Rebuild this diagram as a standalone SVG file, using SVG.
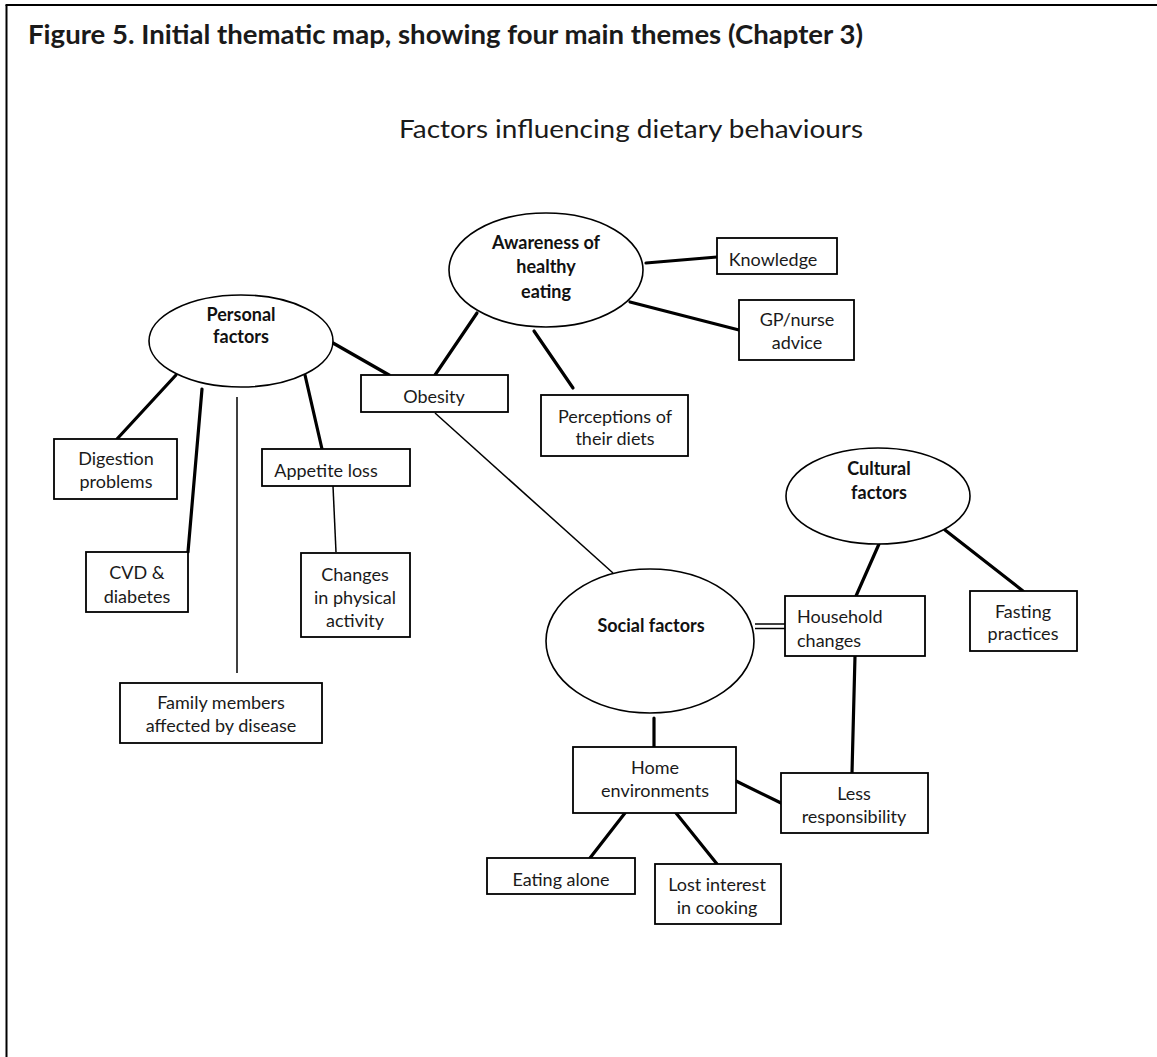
<svg xmlns="http://www.w3.org/2000/svg" width="1157" height="1057" viewBox="0 0 1157 1057">
<style>
.frame{stroke:#000;stroke-width:2;fill:none}
.ell{fill:#fff;stroke:#000;stroke-width:1.6}
.box{fill:#fff;stroke:#000;stroke-width:1.8}
.thick{stroke:#000;stroke-width:3.2;fill:none;stroke-linecap:round}
.thin{stroke:#000;stroke-width:1.5;fill:none}
text{font-family:Lato,"Open Sans","Liberation Sans",sans-serif;fill:#1a1a1a}
.lbl{font-size:18px;text-anchor:middle}
.lbl-l{font-size:18px;text-anchor:start}
.hd{font-size:18px;font-weight:bold;text-anchor:middle;fill:#111}
</style>
<rect x="0" y="0" width="1157" height="1057" fill="#fff"/>
<g id="frame">
<line class="frame" x1="5.5" y1="5" x2="1157" y2="5"/>
<line class="frame" x1="6.5" y1="5" x2="6.5" y2="1057"/>
</g>
<g id="titles">
<text x="28" y="44" font-size="27" font-weight="bold" textLength="835" lengthAdjust="spacingAndGlyphs" fill="#000">Figure 5. Initial thematic map, showing four main themes (Chapter 3)</text>
<text x="399" y="138" font-size="25" textLength="464" lengthAdjust="spacingAndGlyphs" fill="#222">Factors influencing dietary behaviours</text>
</g>
<g id="connectors">
<line class="thick" x1="176" y1="375" x2="117" y2="439"/>
<line class="thick" x1="202" y1="389" x2="188" y2="552"/>
<line class="thick" x1="305" y1="375" x2="322" y2="449"/>
<line class="thick" x1="333" y1="343" x2="389" y2="375"/>
<line class="thick" x1="477" y1="313" x2="435" y2="375"/>
<line class="thick" x1="646" y1="263" x2="717" y2="257"/>
<line class="thick" x1="630" y1="302" x2="739" y2="330"/>
<line class="thick" x1="534" y1="331" x2="573" y2="388"/>
<line class="thick" x1="879" y1="544" x2="856" y2="596"/>
<line class="thick" x1="945" y1="530" x2="1023" y2="591"/>
<line class="thin" x1="755" y1="624" x2="785" y2="624" stroke-width="2"/>
<line class="thin" x1="755" y1="628.5" x2="785" y2="628.5" stroke-width="2"/>
<line class="thick" x1="654" y1="718" x2="654" y2="747"/>
<line class="thick" x1="855" y1="656" x2="852" y2="773"/>
<line class="thick" x1="736" y1="781" x2="781" y2="803"/>
<line class="thick" x1="625" y1="813" x2="590" y2="858"/>
<line class="thick" x1="676" y1="813" x2="717" y2="864"/>
<line class="thin" x1="237" y1="397" x2="237" y2="673"/>
<line class="thin" x1="333" y1="486" x2="336" y2="552"/>
<line class="thin" x1="435" y1="413" x2="613" y2="573"/>
</g>
<g id="personal-factors">
<ellipse class="ell" cx="241" cy="341" rx="92" ry="46"/>
<text class="hd" x="241" y="321">Personal</text>
<text class="hd" x="241" y="343">factors</text>
</g>
<g id="awareness">
<ellipse class="ell" cx="546" cy="270" rx="97" ry="57"/>
<text class="hd" x="546" y="249">Awareness of</text>
<text class="hd" x="546" y="273">healthy</text>
<text class="hd" x="546" y="298">eating</text>
</g>
<g id="cultural-factors">
<ellipse class="ell" cx="878" cy="496" rx="92" ry="48"/>
<text class="hd" x="879" y="475">Cultural</text>
<text class="hd" x="879" y="499">factors</text>
</g>
<g id="social-factors">
<ellipse class="ell" cx="650" cy="641" rx="104" ry="72"/>
<text class="hd" x="651" y="632">Social factors</text>
</g>
<g id="obesity">
<rect class="box" x="361" y="375" width="147" height="37"/>
<text class="lbl" x="434" y="403">Obesity</text>
</g>
<g id="digestion">
<rect class="box" x="54" y="439" width="123" height="60"/>
<text class="lbl" x="116" y="465">Digestion</text>
<text class="lbl" x="116" y="488">problems</text>
</g>
<g id="appetite-loss">
<rect class="box" x="262" y="449" width="148" height="37"/>
<text class="lbl" x="326" y="477">Appetite loss</text>
</g>
<g id="cvd">
<rect class="box" x="86" y="552" width="102" height="60"/>
<text class="lbl" x="137" y="579">CVD &amp;</text>
<text class="lbl" x="137" y="603">diabetes</text>
</g>
<g id="physical-activity">
<rect class="box" x="301" y="553" width="109" height="84"/>
<text class="lbl" x="355" y="581">Changes</text>
<text class="lbl" x="355" y="604">in physical</text>
<text class="lbl" x="355" y="627">activity</text>
</g>
<g id="family">
<rect class="box" x="120" y="683" width="202" height="60"/>
<text class="lbl" x="221" y="709">Family members</text>
<text class="lbl" x="221" y="732">affected by disease</text>
</g>
<g id="knowledge">
<rect class="box" x="717" y="238" width="120" height="36"/>
<text class="lbl" x="773" y="266">Knowledge</text>
</g>
<g id="gp-advice">
<rect class="box" x="739" y="300" width="115" height="60"/>
<text class="lbl" x="797" y="326">GP/nurse</text>
<text class="lbl" x="797" y="349">advice</text>
</g>
<g id="perceptions">
<rect class="box" x="541" y="395" width="147" height="61"/>
<text class="lbl" x="615" y="423">Perceptions of</text>
<text class="lbl" x="615" y="445">their diets</text>
</g>
<g id="household">
<rect class="box" x="785" y="596" width="140" height="60"/>
<text class="lbl-l" x="797" y="623">Household</text>
<text class="lbl-l" x="797" y="647">changes</text>
</g>
<g id="fasting">
<rect class="box" x="970" y="591" width="107" height="60"/>
<text class="lbl" x="1023" y="618">Fasting</text>
<text class="lbl" x="1023" y="640">practices</text>
</g>
<g id="home">
<rect class="box" x="573" y="747" width="163" height="66"/>
<text class="lbl" x="655" y="774">Home</text>
<text class="lbl" x="655" y="797">environments</text>
</g>
<g id="less-responsibility">
<rect class="box" x="781" y="773" width="147" height="60"/>
<text class="lbl" x="854" y="800">Less</text>
<text class="lbl" x="854" y="823">responsibility</text>
</g>
<g id="eating-alone">
<rect class="box" x="487" y="858" width="148" height="36"/>
<text class="lbl" x="561" y="886">Eating alone</text>
</g>
<g id="lost-interest">
<rect class="box" x="655" y="864" width="126" height="60"/>
<text class="lbl" x="717" y="891">Lost interest</text>
<text class="lbl" x="717" y="914">in cooking</text>
</g>
</svg>
